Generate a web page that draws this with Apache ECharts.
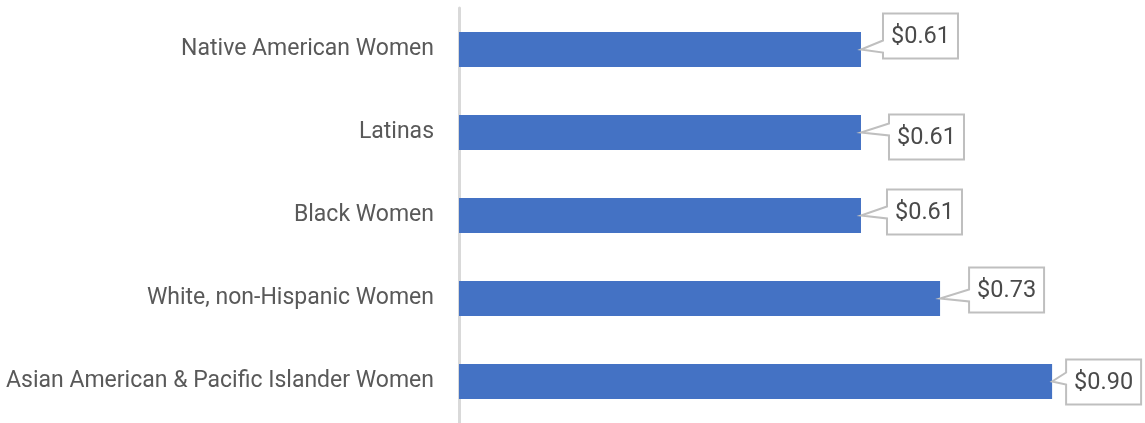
<!DOCTYPE html>
<html>
<head>
<meta charset="utf-8">
<script src="https://cdn.jsdelivr.net/npm/echarts@6/dist/echarts.min.js"></script>
<style>
html,body{margin:0;padding:0;background:#fff;}
#chart{width:1145px;height:423px;}
</style>
</head>
<body>
<div id="chart"></div>
<script>
// ---- data ----
const categories = [
  "Native American Women",
  "Latinas",
  "Black Women",
  "White, non-Hispanic Women",
  "Asian American & Pacific Islander Women"
];
const values = [0.61, 0.61, 0.61, 0.73, 0.90];

// ---- label callout placement (style only): [dx of box left from bar end, dy of box top from bar centre]
const calloutOffsets = [[22, -36], [28, -18], [26, -26], [29, -31], [14, -22]];
const boxW = 75, boxH = 45;

const chart = echarts.init(document.getElementById('chart'), null, {renderer: 'canvas'});
const font = 'Roboto, "Open Sans", sans-serif';

chart.setOption({
  animation: false,
  grid: {left: 459, right: 27, top: 8, height: 418, containLabel: false},
  xAxis: {
    type: 'value', min: 0, max: 1,
    show: false
  },
  yAxis: {
    type: 'category', data: categories, inverse: true,
    axisLine: {show: true, lineStyle: {color: '#D9D9D9', width: 3}},
    axisTick: {show: false},
    axisLabel: {color: '#595959', fontSize: 23, fontFamily: font, margin: 25}
  },
  series: [
    {
      type: 'bar',
      data: values,
      barWidth: 35,
      itemStyle: {color: '#4472C4'},
      z: 2
    },
    {
      type: 'custom',
      data: values.map((v, i) => [v, i]),
      encode: {x: 0, y: 1},
      z: 5,
      renderItem: function (params, api) {
        const i = params.dataIndex;
        const p = api.coord([api.value(0), api.value(1)]);
        const off = calloutOffsets[i];
        const L = p[0] + off[0], T = p[1] + off[1];
        const R = L + boxW, B = T + boxH;
        const cy = p[1];
        const pt = Math.max(T + 3, cy - 9), pb = Math.min(B - 3, cy + 3);
        const pts = [[L, T], [R, T], [R, B], [L, B], [L, pb], [p[0], cy], [L, pt]];
        return {
          type: 'group',
          children: [
            {
              type: 'polygon',
              shape: {points: pts},
              style: {fill: '#fff', stroke: '#BFBFBF', lineWidth: 2, lineJoin: 'miter'}
            },
            {
              type: 'text',
              style: {
                x: (L + R) / 2, y: (T + B) / 2 + 1,
                text: '$' + api.value(0).toFixed(2),
                fill: '#4a4a4a', fontSize: 23.5, fontFamily: font,
                align: 'center', verticalAlign: 'middle'
              }
            }
          ]
        };
      }
    }
  ]
});
</script>
</body>
</html>
